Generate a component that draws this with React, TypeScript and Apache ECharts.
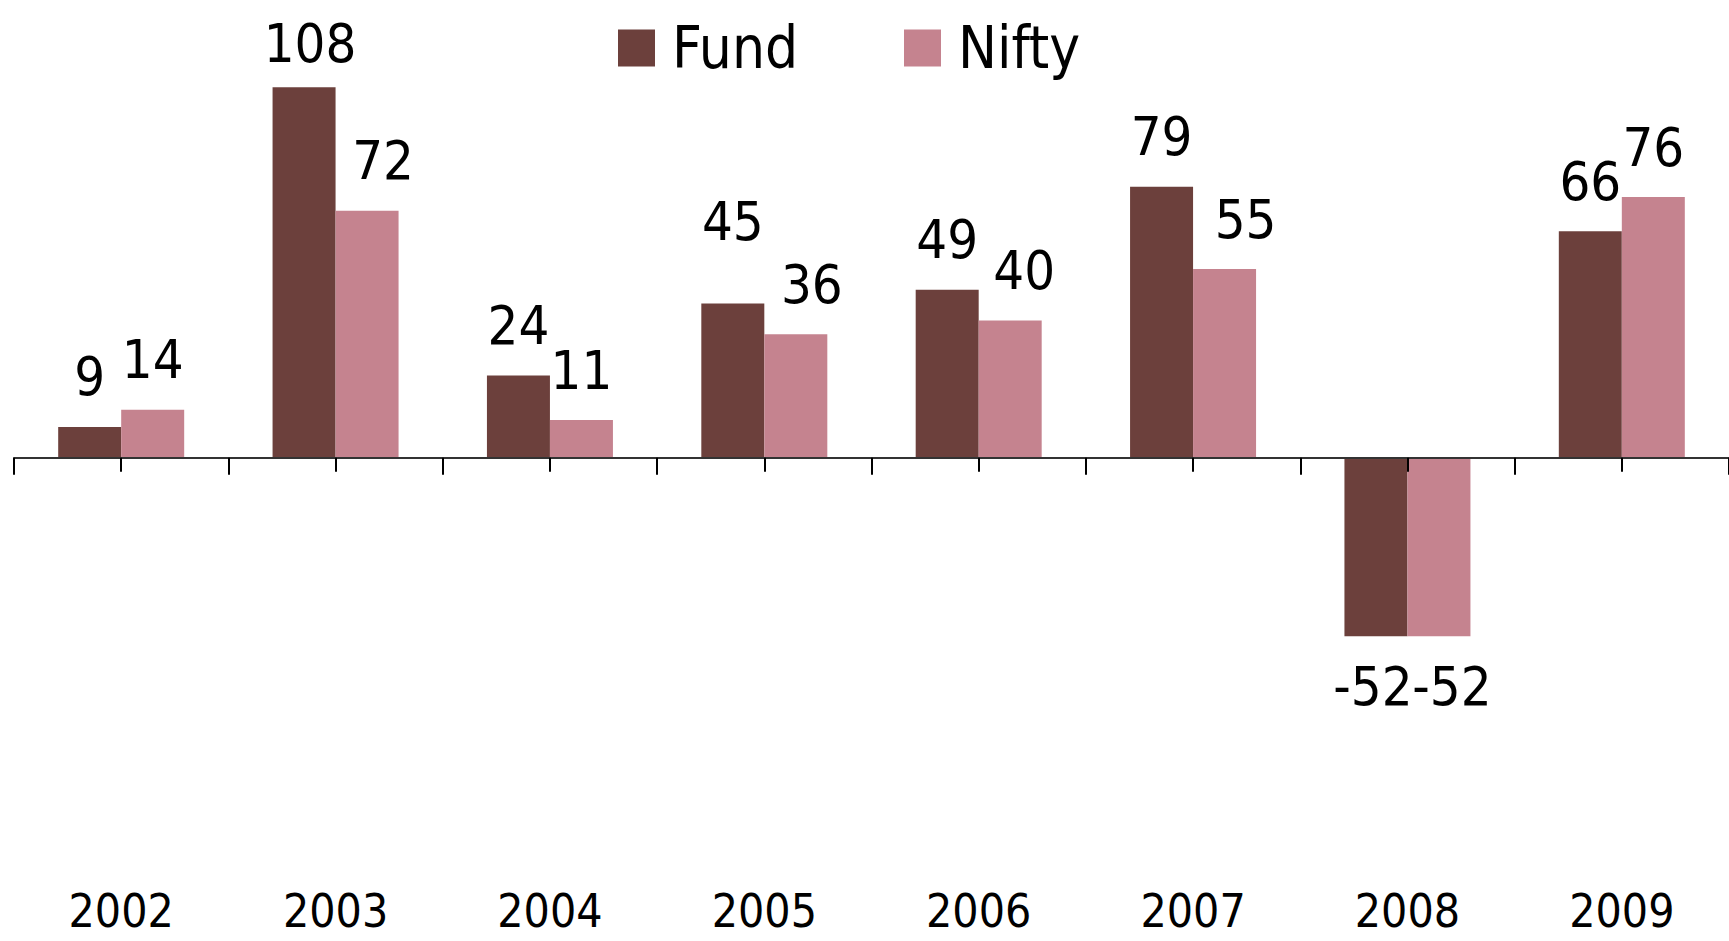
import React, { useEffect, useRef } from "react";
import * as echarts from "echarts";

const years = ["2002", "2003", "2004", "2005", "2006", "2007", "2008", "2009"];
const fundValues = [9, 108, 24, 45, 49, 79, -52, 66];
const niftyValues = [14, 72, 11, 36, 40, 55, -52, 76];
const seriesNames = ["Fund", "Nifty"];
const colors = ["#6C403C", "#C5838F"];

// manual label nudges (style only), [dx, dy] per category index
const fundLabelNudges: Record<number, [number, number]> = { 1: [6, 6], 3: [0, -32], 6: [-3, 0] };
const niftyLabelNudges: Record<number, [number, number]> = { 1: [16, 0], 3: [16, 0], 4: [14, 0], 5: [21, 0], 6: [13, 0] };

const FONT = "'Liberation Sans Narrow', 'DejaVu Sans Condensed', 'Arial Narrow', sans-serif";

function toData(values: number[], nudges: Record<number, [number, number]>) {
  return values.map((v, i) => ({
    value: v,
    label: { position: v < 0 ? "bottom" : "top", offset: nudges[i] || [0, 0] },
  }));
}

export default function App() {
  const ref = useRef<HTMLDivElement>(null);
  useEffect(() => {
    document.body.style.margin = "0";
    const chart = echarts.init(ref.current!, undefined, { renderer: "svg" });
    const labelStyle = {
      show: true,
      fontSize: 54,
      fontFamily: FONT,
      color: "#000",
      distance: 23,
    };
    const legendText = { fontSize: 58, fontFamily: FONT, color: "#000", padding: [0, 0, 0, 12] };
    chart.setOption({
      animation: false,
      backgroundColor: "#fff",
      legend: [
        { data: [seriesNames[0]], left: 613, top: 14, itemWidth: 37, itemHeight: 37, icon: "rect", textStyle: legendText },
        { data: [seriesNames[1]], left: 899, top: 14, itemWidth: 37, itemHeight: 37, icon: "rect", textStyle: legendText },
      ],
      grid: { left: 14, top: 46, width: 1721, height: 755, containLabel: false },
      xAxis: [
        {
          type: "category",
          data: years,
          position: "bottom",
          z: 5,
          axisLine: { show: true, onZero: true, onZeroAxisIndex: 0, lineStyle: { color: "#333", width: 2 } },
          axisTick: { show: true, alignWithLabel: false, length: 17, lineStyle: { color: "#000", width: 2 } },
          axisLabel: { show: false },
          splitLine: { show: false },
        },
        {
          type: "category",
          data: years,
          position: "bottom",
          z: 5,
          axisLine: { show: true, onZero: true, onZeroAxisIndex: 0, lineStyle: { opacity: 0, width: 0 } },
          axisTick: { show: true, alignWithLabel: true, length: 14, lineStyle: { color: "#000", width: 2 } },
          axisLabel: { show: false },
          splitLine: { show: false },
        },
        {
          type: "category",
          data: years,
          position: "bottom",
          axisLine: { show: false, onZero: false },
          axisTick: { show: false },
          axisLabel: { show: true, margin: 87, fontSize: 46, lineHeight: 46, fontFamily: FONT, color: "#000" },
          splitLine: { show: false },
        },
      ],
      yAxis: {
        type: "value",
        min: -100,
        max: 120,
        show: false,
        splitLine: { show: false },
      },
      series: [
        {
          name: seriesNames[0],
          type: "bar",
          data: toData(fundValues, fundLabelNudges),
          barWidth: 63,
          barGap: "0%",
          itemStyle: { color: colors[0] },
          label: labelStyle,
        },
        {
          name: seriesNames[1],
          type: "bar",
          data: toData(niftyValues, niftyLabelNudges),
          barWidth: 63,
          barGap: "0%",
          itemStyle: { color: colors[1] },
          label: labelStyle,
        },
      ],
    });
    return () => chart.dispose();
  }, []);
  return <div ref={ref} style={{ width: 1729, height: 941 }} />;
}
